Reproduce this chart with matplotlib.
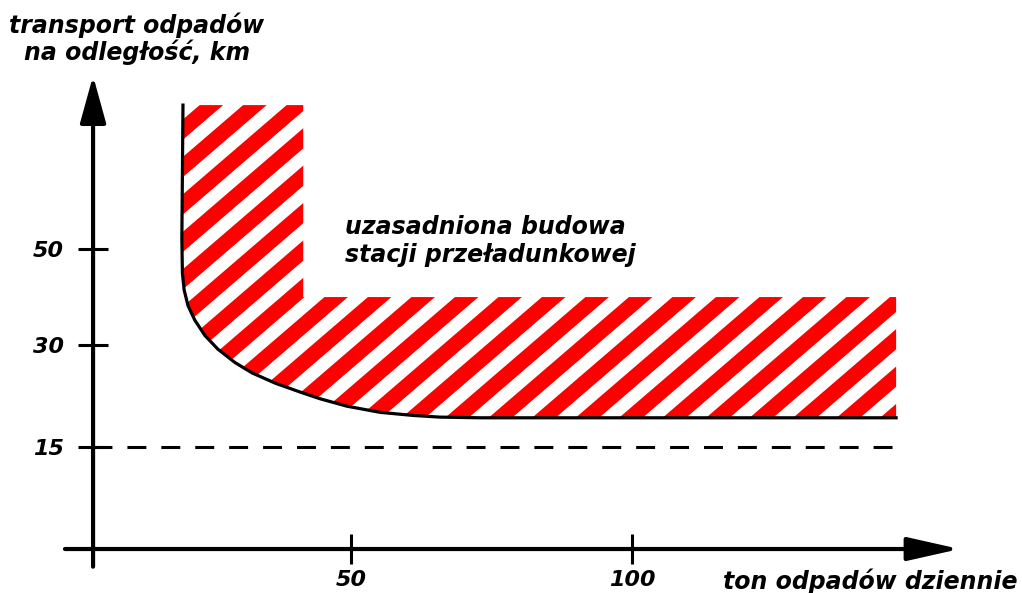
import numpy as np
import matplotlib
matplotlib.use('Agg')
import matplotlib.pyplot as plt
from matplotlib.patches import Polygon
from matplotlib.collections import PolyCollection

# schematic chart: tons of waste per day vs. transport distance (km)
curve_t = [20.1, 19.9, 20.0, 20.3, 21.0, 22.2, 24.0, 26.3, 29.4, 32.4, 36.5,
           40.9, 44.5, 49.3, 55.2, 61.0, 65.8, 73.0, 147]
curve_km = [80, 52.0, 45.0, 41.5, 38.2, 35.2, 32.0, 29.4, 27.4, 25.9, 24.4,
            23.1, 22.1, 21.0, 20.1, 19.65, 19.4, 19.3, 19.3]
# right edge and step of the hatched zone
step_t = [147, 147, 41.5, 41.5]
step_km = [19.3, 40, 40, 80]
min_km = 15
xticks = [50, 100]
yticks = [15, 30, 50]
title = 'transport odpadów\nna odległość, km'
xlabel = 'ton odpadów dziennie'
zone_label = 'uzasadniona budowa\nstacji przeładunkowej'

W, H = 1022, 593
fig = plt.figure(figsize=(W / 100, H / 100), dpi=100)
ax = fig.add_axes([0, 0, 1, 1])

# the km axis is squeezed above 30 in the original drawing
r = 4.8 / 6.8
def fwd(y):
    y = np.asarray(y, dtype=float)
    return np.where(y <= 30, y, 30 + (y - 30) * r)
def inv(z):
    z = np.asarray(z, dtype=float)
    return np.where(z <= 30, z, 30 + (z - 30) / r)
ax.set_yscale('function', functions=(fwd, inv))

yaxis_at = 4.1

# hatched zone
verts = list(zip(curve_t, curve_km)) + list(zip(step_t, step_km))
zone = Polygon(verts, closed=True, transform=ax.transData,
               facecolor='none', edgecolor='none')
ax.add_patch(zone)

s, period, w, x0 = 0.86, 43.5, 23.5, 502.3
polys = []
for k in range(-30, 15):
    u = x0 + k * period
    quad = [(u, 0), (u + w, 0), (u + w + H / s, H), (u + H / s, H)]
    polys.append([(px / W, py / H) for px, py in quad])
stripes = PolyCollection(polys, transform=ax.transAxes,
                         facecolor='#ff0000', edgecolor='none')
ax.add_collection(stripes, autolim=False)
stripes.set_clip_path(zone)

ax.plot(curve_t, curve_km, color='k', lw=2.3, solid_joinstyle='round')
ax.plot([yaxis_at, step_t[0]], [min_km, min_km], color='k', lw=2.2,
        dashes=(6.2, 4.9))

# axes with arrow heads
ax.annotate('', xy=(yaxis_at, 86.1), xytext=(yaxis_at, -2.6),
            arrowprops=dict(arrowstyle='-|>,head_length=1.45,head_width=0.4',
                            lw=3, color='k', shrinkA=0, shrinkB=0,
                            mutation_scale=20))
ax.annotate('', xy=(158.3, 0), xytext=(-0.9, 0),
            arrowprops=dict(arrowstyle='-|>,head_length=1.6,head_width=0.36',
                            lw=3, color='k', shrinkA=0, shrinkB=0,
                            mutation_scale=20))

for sp in ax.spines.values():
    sp.set_visible(False)
ax.spines['left'].set_position(('data', yaxis_at))
ax.spines['bottom'].set_position(('data', 0))

ax.set_xticks(xticks)
ax.set_yticks(yticks)
ax.set_xticklabels([str(v) for v in xticks])
ax.set_yticklabels([str(v) for v in yticks])
ax.tick_params(axis='both', direction='inout', length=22, width=2.2,
               color='k', labelsize=16)
ax.tick_params(axis='y', pad=10)
ax.tick_params(axis='x', pad=4)
for lbl in ax.get_xticklabels() + ax.get_yticklabels():
    lbl.set_fontweight('bold')
    lbl.set_fontstyle('oblique')

font = dict(family='DejaVu Sans', weight='bold', style='oblique', fontsize=17)
ax.text(137 / W, 1 - 39 / H, title, transform=ax.transAxes,
        ha='center', va='center', linespacing=1.08, **font)
ax.text(49, 51.7, zone_label, ha='left', va='center', linespacing=1.17, **font)
ax.text(870 / W, 1 - 569 / H, xlabel, transform=ax.transAxes,
        ha='center', va='top', **font)

ax.set_xlim(-12.46, 169.4)
ax.set_ylim(-6.47, 101.9)

fig.savefig('out.png', dpi=100, facecolor='white')
